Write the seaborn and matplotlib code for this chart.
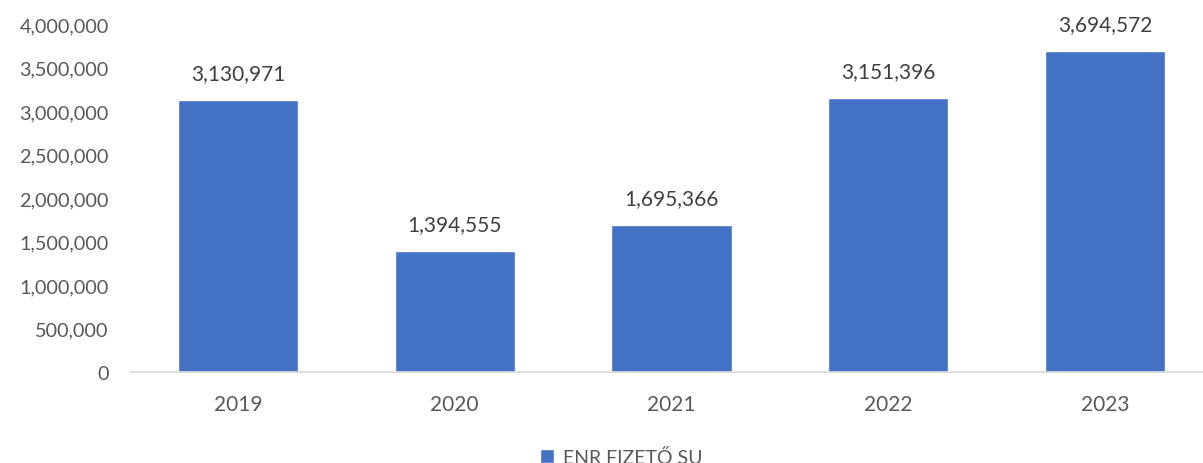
import pandas as pd
import matplotlib.pyplot as plt
import seaborn as sns
from matplotlib.ticker import FuncFormatter

# chart data
years = ["2019", "2020", "2021", "2022", "2023"]
values = [3130971, 1394555, 1695366, 3151396, 3694572]
series_name = "ENR FIZETŐ SU"

df = pd.DataFrame({"year": years, "value": values, "series": series_name})

sns.set_style("white")
plt.rcParams["font.family"] = ["Lato", "DejaVu Sans"]

fig = plt.figure(figsize=(12.03, 4.64), dpi=100)
# plot area runs a little past the right edge, like the original
ax = fig.add_axes([129.6 / 1203, 0.196, 1083.8 / 1203, 0.75])

sns.barplot(data=df, x="year", y="value", hue="series", palette=["#4472C4"],
            width=0.555, saturation=1, ax=ax, legend=True)

for c in ax.containers:
    ax.bar_label(c, labels=[f"{v:,.0f}" for v in c.datavalues], padding=12,
                 fontsize=15, color="#404040")

ax.set_ylim(0, 4000000)
ax.set_yticks(range(0, 4000001, 500000))
ax.yaxis.set_major_formatter(FuncFormatter(lambda v, p: f"{v:,.0f}"))
ax.set_xlabel("")
ax.set_ylabel("")
ax.tick_params(axis="y", length=0, labelsize=14.3, colors="#595959", pad=15)
ax.tick_params(axis="x", length=0, labelsize=15, colors="#595959", pad=16)

for s in ["top", "right", "left"]:
    ax.spines[s].set_visible(False)
ax.spines["bottom"].set_color("#D9D9D9")
ax.spines["bottom"].set_linewidth(1.2)

handles, labels = ax.get_legend_handles_labels()
ax.get_legend().remove()
fig.legend(handles, labels, loc="center", bbox_to_anchor=(621 / 1203, 6 / 464),
           frameon=False, fontsize=14, labelcolor="#595959",
           handlelength=0.75, handleheight=0.75, handletextpad=0.45)

fig.savefig("out.png", dpi=100, facecolor="white")
